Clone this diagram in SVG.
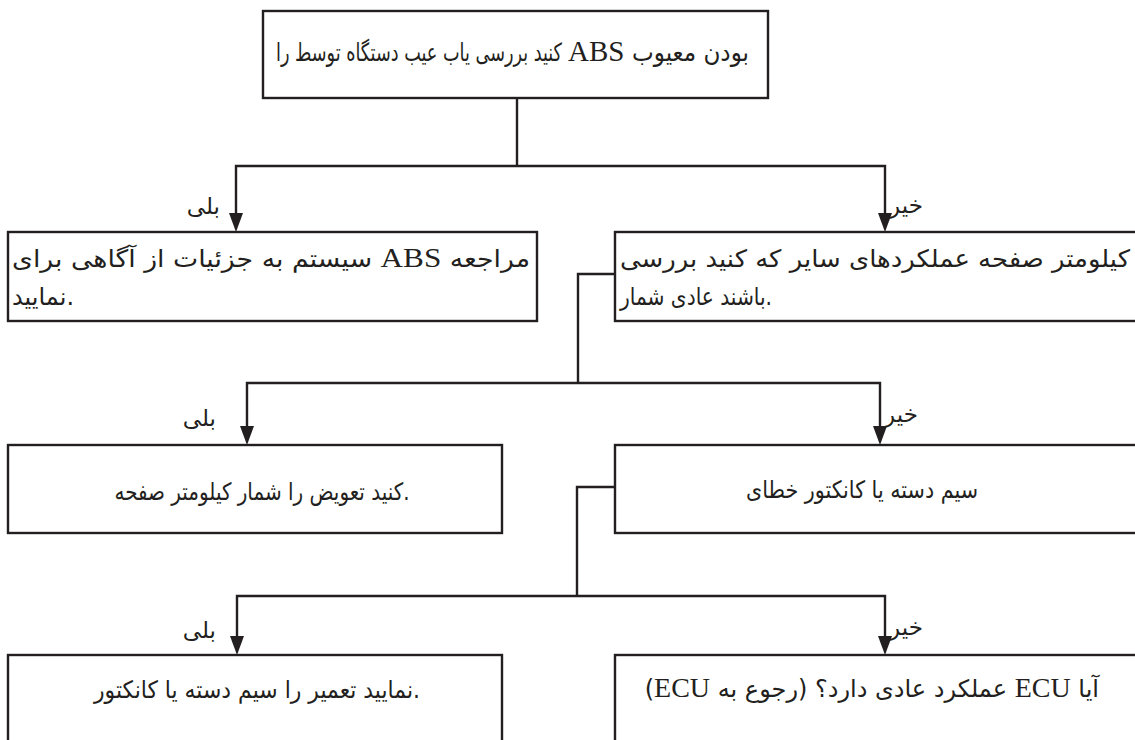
<svg xmlns="http://www.w3.org/2000/svg" width="1135" height="740" viewBox="0 0 1135 740">
<defs>
<style>
.box{fill:#fff;stroke:#231f20;stroke-width:2.4}
.ln{fill:none;stroke:#231f20;stroke-width:2.4}
.ah{fill:#231f20}
.t{font-family:"DejaVu Sans",sans-serif;font-size:24px;fill:#231f20}
.lt{font-family:"Liberation Serif",serif;font-size:28px;fill:#231f20}
.lb{font-family:"DejaVu Sans",sans-serif;font-size:23px;fill:#231f20}
</style>
</defs>
<rect width="1135" height="740" fill="#fff"/>
<g id="connectors">
<path class="ln" d="M517,98 V166"/>
<path class="ln" d="M517,166 H236 V216"/>
<path class="ln" d="M517,166 H885 V216"/>
<path class="ln" d="M615,274 H578 V383"/>
<path class="ln" d="M578,383 H247 V429"/>
<path class="ln" d="M578,383 H880 V429"/>
<path class="ln" d="M615,487 H577 V596"/>
<path class="ln" d="M577,596 H237 V639"/>
<path class="ln" d="M577,596 H885 V639"/>
<path class="ah" d="M229,213 L243,213 L236,232 z"/>
<path class="ah" d="M878,213 L892,213 L885,232 z"/>
<path class="ah" d="M240,426 L254,426 L247,445 z"/>
<path class="ah" d="M873,426 L887,426 L880,445 z"/>
<path class="ah" d="M230,636 L244,636 L237,655 z"/>
<path class="ah" d="M878,636 L892,636 L885,655 z"/>
<text class="lb" x="220" y="214" text-anchor="end">بلی</text>
<text class="lb" x="889" y="213">خیر</text>
<text class="lb" x="216" y="426" text-anchor="end">بلی</text>
<text class="lb" x="884" y="422">خیر</text>
<text class="lb" x="216" y="638" text-anchor="end">بلی</text>
<text class="lb" x="889" y="635">خیر</text>
</g>
<g id="n1">
<rect class="box" x="263" y="11" width="505" height="87"/>
<text class="t" x="276" y="61" style="font-size:25px" textLength="286" lengthAdjust="spacingAndGlyphs">را&#x200E; توسط&#x200E; دستگاه&#x200E; عیب&#x200E; یاب&#x200E; بررسی&#x200E; کنید</text>
<text class="lt" x="568" y="61" style="font-size:29px">ABS</text>
<text class="t" x="632" y="61" style="font-size:25px" textLength="117" lengthAdjust="spacingAndGlyphs">معیوب&#x200E; بودن</text>
</g>
<g id="n2">
<rect class="box" x="8" y="232" width="529" height="89"/>
<text class="t" x="12" y="267" textLength="518" lengthAdjust="spacingAndGlyphs">برای&#x200E; آگاهی&#x200E; از&#x200E; جزئیات&#x200E; به&#x200E; سیستم&#x200E; <tspan class="lt">ABS</tspan> مراجعه</text>
<text class="t" x="12" y="305">نمایید.</text>
</g>
<g id="n3">
<rect class="box" x="615" y="232" width="530" height="89"/>
<text class="t" x="620" y="267" textLength="510" lengthAdjust="spacingAndGlyphs">بررسی&#x200E; کنید&#x200E; که&#x200E; سایر&#x200E; عملکردهای&#x200E; صفحه&#x200E; کیلومتر</text>
<text class="t" x="620" y="305" textLength="152" lengthAdjust="spacingAndGlyphs">شمار&#x200E; عادی&#x200E; باشند.</text>
</g>
<g id="n4">
<rect class="box" x="8" y="445" width="494" height="88"/>
<text class="t" x="262" y="500" text-anchor="middle" textLength="295" lengthAdjust="spacingAndGlyphs">صفحه&#x200E; کیلومتر&#x200E; شمار&#x200E; را&#x200E; تعویض&#x200E; کنید.</text>
</g>
<g id="n5">
<rect class="box" x="615" y="445" width="530" height="88"/>
<text class="t" x="746" y="498" textLength="232" lengthAdjust="spacingAndGlyphs">خطای&#x200E; کانکتور&#x200E; یا&#x200E; دسته&#x200E; سیم</text>
</g>
<g id="n6">
<rect class="box" x="8" y="655" width="494" height="95"/>
<text class="t" x="257" y="698" text-anchor="middle" textLength="326" lengthAdjust="spacingAndGlyphs">کانکتور&#x200E; یا&#x200E; دسته&#x200E; سیم&#x200E; را&#x200E; تعمیر&#x200E; نمایید.</text>
</g>
<g id="n7">
<rect class="box" x="615" y="655" width="530" height="95"/>
<text class="t" x="1099" y="697" direction="rtl" style="direction:rtl;unicode-bidi:embed" text-anchor="start">آیا <tspan class="lt">ECU</tspan> عملکرد عادی دارد؟ (رجوع به <tspan class="lt">ECU</tspan>)</text>
</g>
</svg>
